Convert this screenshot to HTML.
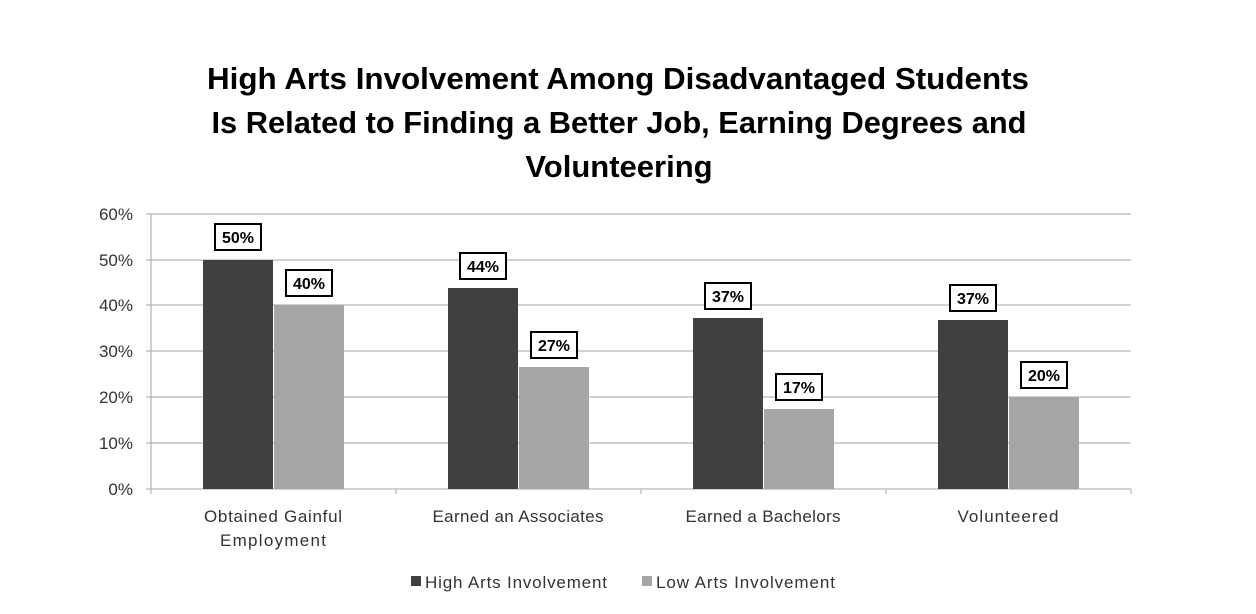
<!DOCTYPE html>
<html><head><style>body{margin:0;background:#fff}svg{display:block}</style></head><body>
<svg width="1256" height="614" xmlns="http://www.w3.org/2000/svg" font-family="Liberation Sans, sans-serif">
<rect width="1256" height="614" fill="#fff"/>
<g font-size="31" font-weight="bold" text-anchor="middle" fill="#000">
<text x="618" y="89" textLength="822" lengthAdjust="spacingAndGlyphs">High Arts Involvement Among Disadvantaged Students</text>
<text x="619" y="133" textLength="815" lengthAdjust="spacingAndGlyphs">Is Related to Finding a Better Job, Earning Degrees and</text>
<text x="619" y="177">Volunteering</text>
</g>
<g stroke="#a6a6a6" stroke-width="1">
<line x1="151" y1="214" x2="1131" y2="214"/>
<line x1="151" y1="260" x2="1131" y2="260"/>
<line x1="151" y1="305" x2="1131" y2="305"/>
<line x1="151" y1="351" x2="1131" y2="351"/>
<line x1="151" y1="397" x2="1131" y2="397"/>
<line x1="151" y1="443" x2="1131" y2="443"/>
<line x1="151" y1="489" x2="1131" y2="489"/>
<line x1="151" y1="214" x2="151" y2="494"/>
<line x1="146" y1="214" x2="151" y2="214"/><line x1="146" y1="260" x2="151" y2="260"/><line x1="146" y1="305" x2="151" y2="305"/><line x1="146" y1="351" x2="151" y2="351"/><line x1="146" y1="397" x2="151" y2="397"/><line x1="146" y1="443" x2="151" y2="443"/><line x1="146" y1="489" x2="151" y2="489"/>
<line x1="396" y1="489" x2="396" y2="494"/><line x1="641" y1="489" x2="641" y2="494"/><line x1="886" y1="489" x2="886" y2="494"/><line x1="1131" y1="489" x2="1131" y2="494"/>
</g>
<g font-size="17" fill="#333" text-anchor="end">
<text x="133" y="220">60%</text><text x="133" y="266">50%</text><text x="133" y="311">40%</text><text x="133" y="357">30%</text><text x="133" y="403">20%</text><text x="133" y="449">10%</text><text x="133" y="495">0%</text>
</g>
<g fill="#404040">
<rect x="203" y="260" width="70" height="229"/>
<rect x="448" y="288" width="70" height="201"/>
<rect x="693" y="318" width="70" height="171"/>
<rect x="938" y="320" width="70" height="169"/>
</g>
<g fill="#a6a6a6">
<rect x="274" y="305" width="70" height="184"/>
<rect x="519" y="367" width="70" height="122"/>
<rect x="764" y="409" width="70" height="80"/>
<rect x="1009" y="397" width="70" height="92"/>
</g>
<g fill="#fff" stroke="#000" stroke-width="2">
<rect x="215" y="224" width="46" height="26"/>
<rect x="286" y="270" width="46" height="26"/>
<rect x="460" y="253" width="46" height="26"/>
<rect x="531" y="332" width="46" height="26"/>
<rect x="705" y="283" width="46" height="26"/>
<rect x="776" y="374" width="46" height="26"/>
<rect x="950" y="285" width="46" height="26"/>
<rect x="1021" y="362" width="46" height="26"/>
</g>
<g font-size="16" font-weight="bold" text-anchor="middle" fill="#000">
<text x="238" y="243">50%</text><text x="309" y="289">40%</text>
<text x="483" y="272">44%</text><text x="554" y="351">27%</text>
<text x="728" y="302">37%</text><text x="799" y="393">17%</text>
<text x="973" y="304">37%</text><text x="1044" y="381">20%</text>
</g>
<g font-size="17" fill="#333" text-anchor="middle">
<text x="273" y="522" textLength="138">Obtained Gainful</text><text x="273" y="546" textLength="106">Employment</text>
<text x="518" y="522" textLength="171">Earned an Associates</text>
<text x="763" y="522" textLength="155">Earned a Bachelors</text>
<text x="1008" y="522" textLength="101">Volunteered</text>
</g>
<rect x="411" y="576" width="10" height="10" fill="#404040"/>
<text x="425" y="588" font-size="17" fill="#333" textLength="182">High Arts Involvement</text>
<rect x="642" y="576" width="10" height="10" fill="#a6a6a6"/>
<text x="656" y="588" font-size="17" fill="#333" textLength="179">Low Arts Involvement</text>
</svg>
</body></html>
